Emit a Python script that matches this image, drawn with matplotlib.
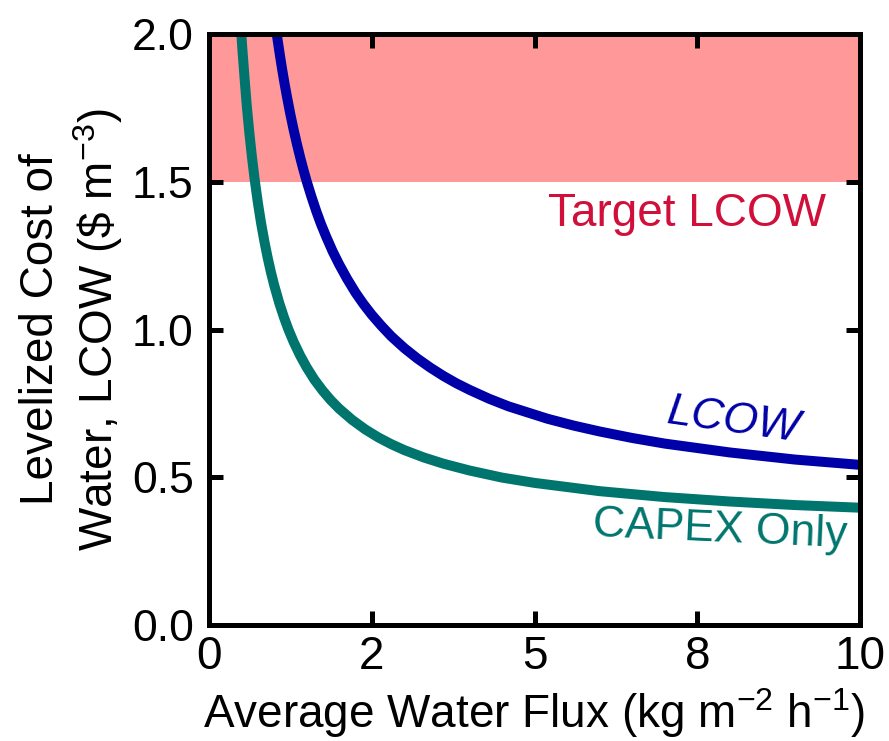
import matplotlib
matplotlib.use("Agg")
import matplotlib.pyplot as plt

plt.rcParams['font.family'] = ['Liberation Sans', 'DejaVu Sans']
plt.rcParams['mathtext.fontset'] = 'custom'
plt.rcParams['mathtext.rm'] = 'Liberation Sans'

# values
capex_flux = [0.48, 0.51, 0.55, 0.58, 0.62, 0.66, 0.70, 0.75, 0.80, 0.85, 0.90, 0.95,
              1.0, 1.08, 1.15, 1.22, 1.3, 1.4, 1.5, 1.62, 1.75, 1.87, 2.0, 2.2,
              2.4, 2.6, 2.8, 3.0, 3.3, 3.6, 4.0, 4.5, 5.0, 6.0, 7.0, 8.0, 9.0, 10.0]
capex_cost = [2.06, 1.956, 1.84, 1.758, 1.665, 1.583, 1.51, 1.43, 1.36, 1.299, 1.244, 1.195,
              1.151, 1.089, 1.042, 1.0, 0.958, 0.912, 0.872, 0.830, 0.792, 0.761, 0.732, 0.694,
              0.662, 0.635, 0.612, 0.592, 0.567, 0.546, 0.523, 0.499, 0.481, 0.453, 0.433,
              0.418, 0.406, 0.397]

lcow_flux = [0.98, 1.02, 1.05, 1.09, 1.12, 1.16, 1.2, 1.25, 1.3, 1.35, 1.4, 1.45, 1.5,
             1.57, 1.65, 1.72, 1.8, 1.9, 2.0, 2.12, 2.25, 2.37, 2.5, 2.65, 2.8, 3.0,
             3.2, 3.4, 3.6, 3.8, 4.0, 4.3, 4.6, 5.2, 5.6, 6.0, 6.5, 7.0, 8.0, 9.0, 10.0]
lcow_cost = [2.10, 2.034, 1.986, 1.927, 1.885, 1.833, 1.785, 1.728, 1.676, 1.628, 1.583,
             1.541, 1.502, 1.452, 1.399, 1.357, 1.314, 1.264, 1.22, 1.172, 1.125, 1.087,
             1.05, 1.012, 0.977, 0.937, 0.902, 0.871, 0.843, 0.818, 0.796, 0.766, 0.740,
             0.698, 0.675, 0.655, 0.633, 0.614, 0.584, 0.560, 0.542]

target_low, target_high = 1.5, 2.0

xtick_pos = [0, 2.5, 5, 7.5, 10]
xtick_labels = ["0", "2", "5", "8", "10"]
ytick_pos = [0.0, 0.5, 1.0, 1.5, 2.0]
ytick_labels = ["0.0", "0.5", "1.0", "1.5", "2.0"]

fig = plt.figure(figsize=(8.89, 7.41), dpi=100)
ax = fig.add_axes([0.2351, 0.1565, 0.7323, 0.7976])

ax.axhspan(target_low, target_high, color="#FF9999", lw=0, zorder=0)
ax.plot(lcow_flux, lcow_cost, color="#0000A8", lw=7.2, solid_joinstyle="round")
ax.plot(capex_flux, capex_cost, color="#00756E", lw=7.2, solid_joinstyle="round")

ax.text(7.34, 1.39, "Target LCOW", color="#D0103A", fontsize=33, ha="center", va="center")
ax.text(8.05, 0.69, "LCOW", color="#0000A8", fontsize=32, style="italic",
        rotation=-8, ha="center", va="center")
ax.text(7.85, 0.32, "CAPEX Only", color="#00756E", fontsize=32, rotation=-2.5,
        ha="center", va="center")

ax.set_xlim(0, 10)
ax.set_ylim(0, 2.0)
ax.set_xticks(xtick_pos)
ax.set_xticklabels(xtick_labels)
ax.set_yticks(ytick_pos)
ax.set_yticklabels(ytick_labels)

for s in ax.spines.values():
    s.set_linewidth(3.6)
ax.tick_params(direction="in", length=10, width=3.6, top=True, right=True)
ax.tick_params(axis="x", labelsize=33, pad=7)
ax.tick_params(axis="y", labelsize=32, pad=11)

ax.set_xlabel("Average Water Flux (kg m$^{-2}$ h$^{-1}$)", fontsize=33, labelpad=5)
ax.set_ylabel("Levelized Cost of\nWater, LCOW (\\$ m$^{-3}$)", fontsize=33,
              labelpad=5, linespacing=1.2)

fig.savefig("out.png", dpi=100)
